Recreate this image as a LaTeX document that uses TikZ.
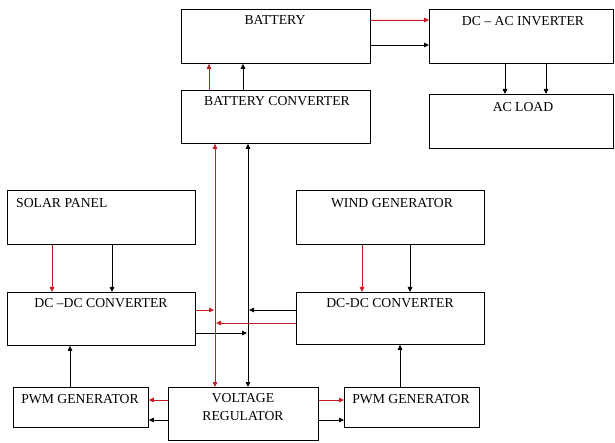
\documentclass[tikz,border=0pt]{standalone}
\usepackage{fontspec}
\setmainfont{Liberation Serif}
\usetikzlibrary{arrows.meta}
\definecolor{arrred}{RGB}{205,25,35}
\begin{document}
\begin{tikzpicture}[x=1pt,y=-1pt,
  box/.style={draw,line width=0.8pt,inner sep=0pt,anchor=north west},
  lbl/.style={inner sep=0pt,font=\fontsize{13.7}{16}\selectfont,text height=9.1pt,text depth=0pt},
  conn/.style={line width=0.8pt,-{Triangle[length=5pt,width=4.5pt]}},
  rconn/.style={conn,draw=arrred,fill=arrred},
  bconn/.style={conn,draw=black},
  rbus/.style={line width=0.8pt,draw=arrred,{Triangle[length=5pt,width=4.5pt]}-{Triangle[length=5pt,width=4.5pt]}},
  bbus/.style={line width=0.8pt,draw=black,{Triangle[length=5pt,width=4.5pt]}-{Triangle[length=5pt,width=4.5pt]}}]
\useasboundingbox (0,0) rectangle (615,443);
% boxes
\node[box,minimum width=189pt,minimum height=54pt] (bat) at (181,9) {};
\node[box,minimum width=184pt,minimum height=54pt] (inv) at (429,9) {};
\node[box,minimum width=189pt,minimum height=53pt] (bconv) at (181,90) {};
\node[box,minimum width=184pt,minimum height=54pt] (load) at (429,94) {};
\node[box,minimum width=188pt,minimum height=54pt] (solar) at (7,190) {};
\node[box,minimum width=188pt,minimum height=54pt] (wind) at (296,190) {};
\node[box,minimum width=188pt,minimum height=53pt] (dcl) at (7,292) {};
\node[box,minimum width=188pt,minimum height=52pt] (dcr) at (296,292) {};
\node[box,minimum width=150pt,minimum height=53pt] (vreg) at (168,387) {};
\node[box,minimum width=135pt,minimum height=40pt] (pwml) at (13,387) {};
\node[box,minimum width=135pt,minimum height=40pt] (pwmr) at (344,387) {};
% labels
\node[lbl] (batT) at (275,20) {BATTERY};
\node[lbl] (invT) at (523,21) {DC – AC INVERTER};
\node[lbl] (bconvT) at (277,101) {BATTERY CONVERTER};
\node[lbl] (loadT) at (523,107) {AC LOAD};
\node[lbl,anchor=west] (solarT) at (16,203) {SOLAR PANEL};
\node[lbl] (windT) at (392,203) {WIND GENERATOR};
\node[lbl] (dclT) at (101,303) {DC –DC CONVERTER};
\node[lbl] (dcrT) at (390,303) {DC-DC CONVERTER};
\node[lbl] (vregT1) at (243,398) {VOLTAGE};
\node[lbl] (vregT2) at (243,416) {REGULATOR};
\node[lbl] (pwmlT) at (80,399) {PWM GENERATOR};
\node[lbl] (pwmrT) at (411,399) {PWM GENERATOR};
% connectors
\draw[rconn] (bat.east |- 0,20) -- (inv.west |- 0,20);
\draw[bconn] (bat.east |- 0,45) -- (inv.west |- 0,45);
\draw[bconn] (inv.south -| 505,0) -- (load.north -| 505,0);
\draw[bconn] (inv.south -| 546,0) -- (load.north -| 546,0);
\draw[rconn] (bconv.north -| 209,0) -- (bat.south -| 209,0);
\draw[bconn] (bconv.north -| 243,0) -- (bat.south -| 243,0);
\draw[rbus] (bconv.south -| 215,0) -- (vreg.north -| 215,0);
\draw[bbus] (bconv.south -| 248,0) -- (vreg.north -| 248,0);
\draw[rconn] (solar.south -| 52,0) -- (dcl.north -| 52,0);
\draw[bconn] (solar.south -| 112,0) -- (dcl.north -| 112,0);
\draw[rconn] (wind.south -| 362,0) -- (dcr.north -| 362,0);
\draw[bconn] (wind.south -| 410,0) -- (dcr.north -| 410,0);
\draw[rconn] (dcl.east |- 0,310) -- (214,310);
\draw[bconn] (dcl.east |- 0,333) -- (247,333);
\draw[bconn] (dcr.west |- 0,310) -- (249,310);
\draw[rconn] (dcr.west |- 0,323) -- (216,323);
\draw[bconn] (pwmr.north -| 400,0) -- (dcr.south -| 400,0);
\draw[bconn] (pwml.north -| 70,0) -- (dcl.south -| 70,0);
\draw[rconn] (vreg.east |- 0,400) -- (pwmr.west |- 0,400);
\draw[bconn] (vreg.east |- 0,420) -- (pwmr.west |- 0,420);
\draw[rconn] (vreg.west |- 0,400) -- (pwml.east |- 0,400);
\draw[bconn] (vreg.west |- 0,420) -- (pwml.east |- 0,420);
\end{tikzpicture}
\end{document}
